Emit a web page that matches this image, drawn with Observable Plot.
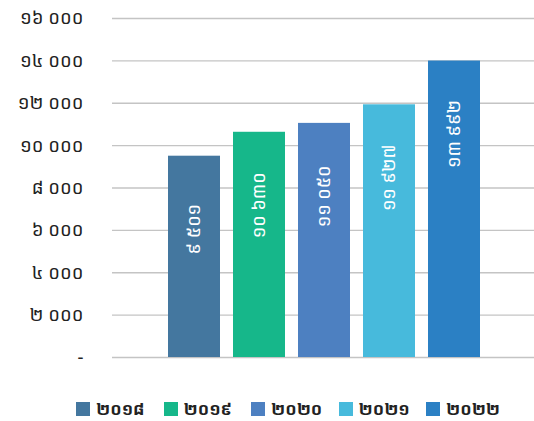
<!DOCTYPE html>
<html>
<head>
<meta charset="utf-8">
<script src="https://cdn.jsdelivr.net/npm/d3@7"></script>
<script src="https://cdn.jsdelivr.net/npm/@observablehq/plot@0.6"></script>
<style>
  body { margin: 0; background: #fff; font-family: "Noto Sans Khmer", "Khmer OS", "Noto Sans", "DejaVu Sans", sans-serif; }
  #chart svg { display: block; }
  .legend { display: flex; position: absolute; top: 397px; left: 76px; }
  .legend .item { display: flex; align-items: center; width: 87.5px; font-size: 17px; font-weight: bold; color: #222; white-space: nowrap; line-height: 24px; }
  .legend .sw { width: 14px; height: 14px; margin-right: 6px; flex: none; }
</style>
</head>
<body>
<div id="chart"></div>
<div class="legend" id="legend"></div>
<script>
const years = ["២០១៨", "២០១៩", "២០២០", "២០២១", "២០២២"];
const values = [9501, 10630, 11050, 11927, 13992];
const valueLabels = ["៩ ៥០១", "១០ ៦៣០", "១១ ០៥០", "១១ ៩២៧", "១៣ ៩៩២"];
const colors = ["#44779f", "#16b78a", "#4d80c1", "#47badc", "#2b80c4"];
const tickValues = [0, 2000, 4000, 6000, 8000, 10000, 12000, 14000, 16000];
const tickLabels = ["-", "២ ០០០", "៤ ០០០", "៦ ០០០", "៨ ០០០", "១០ ០០០", "១២ ០០០", "១៤ ០០០", "១៦ ០០០"];

const data = years.map((y, i) => ({year: y, value: values[i], label: valueLabels[i]}));
const tickMap = new Map(tickValues.map((v, i) => [v, tickLabels[i]]));

const chart = Plot.plot({
  width: 534,
  height: 380,
  marginLeft: 112,
  marginRight: 0,
  marginTop: 18,
  marginBottom: 23,
  style: {fontFamily: '"Noto Sans Khmer", "Khmer OS", "Noto Sans", sans-serif', background: "#fff"},
  x: {domain: years, range: [112, 536], paddingInner: 0.2, paddingOuter: 0.8615, axis: null},
  y: {domain: [0, 16000], axis: null},
  color: {domain: years, range: colors},
  marks: [
    Plot.ruleY(tickValues, {stroke: "#c4c4c4", strokeWidth: 1.4}),
    Plot.axisY({ticks: tickValues, tickFormat: d => tickMap.get(d), tickSize: 0, tickPadding: 29, fontSize: 18.5, fill: "#222", color: "#222", label: null}),
    Plot.barY(data, {x: "year", y: "value", fill: "year"}),
    Plot.text(data, {x: "year", y: "value", text: "label", rotate: -90, dy: 73, textAnchor: "middle", fill: "#fff", fontSize: 18})
  ]
});
document.getElementById("chart").appendChild(chart);

const legend = document.getElementById("legend");
years.forEach((y, i) => {
  const item = document.createElement("div");
  item.className = "item";
  item.innerHTML = `<span class="sw" style="background:${colors[i]}"></span><span>${y}</span>`;
  legend.appendChild(item);
});
</script>
</body>
</html>
